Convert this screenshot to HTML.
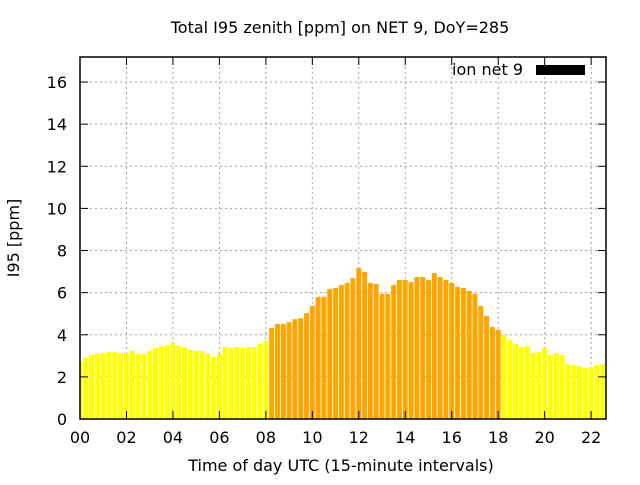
<!DOCTYPE html>
<html><head><meta charset="utf-8"><style>
body{margin:0;background:#fff;}
svg text{font-family:"DejaVu Sans","Liberation Sans",sans-serif;font-size:16px;fill:#000;}
</style></head><body>
<svg id="chart" width="640" height="480">
<rect width="640" height="480" fill="#fff"/>
<text x="340" y="33" text-anchor="middle">Total I95 zenith [ppm] on NET 9, DoY=285</text>
<text x="341" y="471" text-anchor="middle">Time of day UTC (15-minute intervals)</text>
<text transform="translate(19,238) rotate(-90)" text-anchor="middle">I95 [ppm]</text>
<g id="grid"></g><g id="bars"></g><g id="ticks"></g>
<rect x="80" y="57" width="526" height="362" fill="none" stroke="#000" stroke-width="1.5"/>
<g>
<text x="523" y="75" text-anchor="end">ion net 9</text>
<rect x="536" y="65" width="49" height="10" fill="#000"/>
</g>
</svg>
<script>
const values=[2.7,2.9,3.04,3.09,3.13,3.18,3.18,3.13,3.13,3.23,3.09,3.09,3.23,3.37,3.46,3.51,3.6,3.46,3.42,3.28,3.23,3.23,3.09,2.94,3.09,3.42,3.37,3.42,3.37,3.42,3.42,3.56,3.7,4.32,4.51,4.51,4.6,4.74,4.79,5.03,5.37,5.8,5.8,6.17,6.22,6.36,6.46,6.69,7.17,6.98,6.46,6.41,5.94,5.94,6.36,6.6,6.6,6.5,6.74,6.74,6.6,6.93,6.74,6.6,6.46,6.27,6.22,6.08,5.94,5.37,4.89,4.37,4.23,3.99,3.75,3.56,3.42,3.46,3.13,3.18,3.37,3.04,3.13,3.04,2.61,2.56,2.51,2.42,2.46,2.56,2.61];
const highlight=[33,72];
const yTicks=[0,2,4,6,8,10,12,14,16];
const xTickLabels=["00","02","04","06","08","10","12","14","16","18","20","22"];
const L=80,R=606,T=57,B=419,XMAX=22.64,YMAX=17.19;
const xs=h=>L+h*(R-L)/XMAX, ys=v=>B-v*(B-T)/YMAX;
const NS="http://www.w3.org/2000/svg";
const mk=(t,a,p)=>{const e=document.createElementNS(NS,t);for(const k in a)e.setAttribute(k,a[k]);p.appendChild(e);return e;};
const grid=document.getElementById('grid'),bars=document.getElementById('bars'),ticks=document.getElementById('ticks');
yTicks.forEach(v=>{const y=ys(v);
 if(v>0){const g=mk('line',{x1:L,x2:R,y1:y,y2:y,stroke:'#a0a0a0','stroke-dasharray':'2,3'},grid);
 
 }
 mk('line',{x1:L,x2:L+8,y1:y,y2:y,stroke:'#000'},ticks);
 mk('line',{x1:R,x2:R-8,y1:y,y2:y,stroke:'#000'},ticks);
 const t=mk('text',{x:L-13,y:y+6,'text-anchor':'end'},ticks);t.textContent=v;
 
 });
xTickLabels.forEach((s,i)=>{const x=xs(i*2);
 if(i>0){const g=mk('line',{x1:x,x2:x,y1:T,y2:B,stroke:'#a0a0a0','stroke-dasharray':'2,3'},grid);
 
 }
 mk('line',{x1:x,x2:x,y1:B,y2:B-8,stroke:'#000'},ticks);
 mk('line',{x1:x,x2:x,y1:T,y2:T+8,stroke:'#000'},ticks);
 const t=mk('text',{x:x,y:B+24,'text-anchor':'middle'},ticks);t.textContent=s;
 
 });
const w=(xs(0.25)-xs(0))*0.85;
values.forEach((v,i)=>{const c=xs(i*0.25);let x0=Math.max(L,c-w/2),x1=Math.min(R,c+w/2);
 const col=(i>=highlight[0]&&i<=highlight[1])?'#ffa500':'#ffff00';
 const r=mk('rect',{x:x0,y:ys(v),width:x1-x0,height:B-ys(v),fill:col},bars);
 
 });
</script>
</body></html>
